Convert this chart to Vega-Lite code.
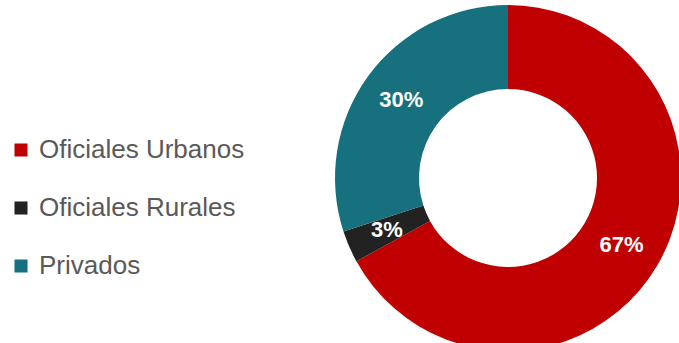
{
  "$schema": "https://vega.github.io/schema/vega-lite/v6.json",
  "autosize": "none",
  "width": 342,
  "height": 356,
  "padding": {"left": 337, "top": 0, "right": 0, "bottom": 0},
  "background": "white",
  "config": {"view": {"stroke": null}, "font": "Liberation Sans"},
  "data": {
    "values": [
      {"categoria": "Oficiales Urbanos", "valor": 67, "etiqueta": "67%", "orden": 1},
      {"categoria": "Oficiales Rurales", "valor": 3, "etiqueta": "3%", "orden": 2},
      {"categoria": "Privados", "valor": 30, "etiqueta": "30%", "orden": 3}
    ]
  },
  "encoding": {
    "theta": {"field": "valor", "type": "quantitative", "stack": true},
    "order": {"field": "orden", "type": "quantitative"}
  },
  "layer": [
    {
      "mark": {"type": "arc", "outerRadius": 173, "innerRadius": 89},
      "encoding": {
        "color": {
          "field": "categoria",
          "type": "nominal",
          "sort": ["Oficiales Urbanos", "Oficiales Rurales", "Privados"],
          "scale": {
            "domain": ["Oficiales Urbanos", "Oficiales Rurales", "Privados"],
            "range": ["#C00000", "#222222", "#17707E"]
          },
          "legend": {
            "title": null,
            "orient": "none",
            "legendX": -329,
            "legendY": 137,
            "symbolType": "square",
            "symbolSize": 170,
            "symbolStrokeWidth": 0,
            "labelFontSize": 26,
            "labelColor": "#595959",
            "labelOffset": 5,
            "rowPadding": 32,
            "labelLimit": 400
          }
        }
      }
    },
    {
      "mark": {"type": "text", "radius": 132, "fontSize": 22, "fontWeight": "bold", "color": "white"},
      "encoding": {
        "text": {"field": "etiqueta", "type": "nominal"}
      }
    }
  ]
}
